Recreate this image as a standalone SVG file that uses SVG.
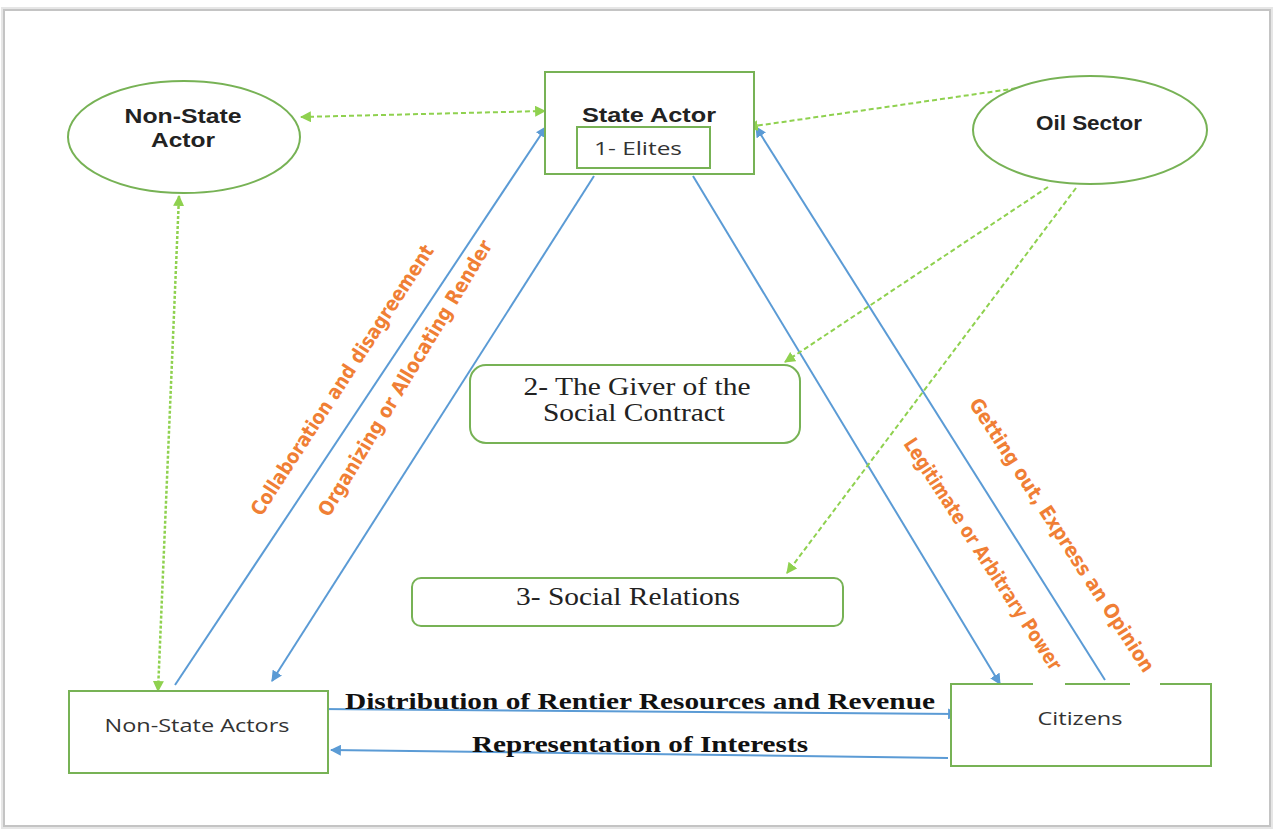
<svg xmlns="http://www.w3.org/2000/svg" width="1276" height="832" viewBox="0 0 1276 832">
<style>
.node{fill:#fff;stroke:#77b255;stroke-width:2}
.blue{stroke:#5b9bd5;stroke-width:2;fill:none}
.gdash{stroke:#8fd14f;stroke-width:2;fill:none;stroke-dasharray:5 3}
.gdot{stroke:#8fd14f;stroke-width:2.5;fill:none;stroke-dasharray:3 2}
.sansb{font-family:"Liberation Sans",Arial,sans-serif;font-weight:bold;font-size:21px;fill:#222;text-anchor:middle}
.sans{font-family:"Open Sans","Liberation Sans",sans-serif;font-size:19px;fill:#333;text-anchor:middle}
.serif{font-family:"Liberation Serif","Times New Roman",serif;font-size:25px;fill:#222;text-anchor:middle}
.serifb{font-family:"Liberation Serif","Times New Roman",serif;font-weight:bold;font-size:24px;fill:#111;text-anchor:middle}
.orange{font-family:"DejaVu Sans","Liberation Sans",sans-serif;font-weight:bold;font-size:20px;fill:#f07f35;text-anchor:middle}
</style>
<defs>
<marker id="ag" viewBox="0 0 10 10" refX="9" refY="5" markerWidth="11" markerHeight="11" orient="auto-start-reverse" markerUnits="userSpaceOnUse"><path d="M0,0 L10,5 L0,10 z" fill="#8fd14f"/></marker>
<marker id="abl" viewBox="0 0 10 10" refX="9" refY="5" markerWidth="11" markerHeight="11" orient="auto-start-reverse" markerUnits="userSpaceOnUse"><path d="M0,0 L10,5 L0,10 z" fill="#5b9bd5"/></marker>
</defs>
<rect x="0" y="0" width="1276" height="832" fill="#ffffff"/>
<rect x="4" y="10" width="1266" height="816" fill="#fff" stroke="#c4c4c4" stroke-width="2"/>
<rect x="2" y="8" width="1270" height="820" fill="none" stroke="#e6e6e6" stroke-width="2"/>

<g id="connectors">
<line class="blue" x1="175" y1="685" x2="546" y2="127" marker-end="url(#abl)"/>
<line class="blue" x1="594" y1="176" x2="272" y2="681" marker-end="url(#abl)"/>
<line class="blue" x1="693" y1="176" x2="1000" y2="684" marker-end="url(#abl)"/>
<line class="blue" x1="1105" y1="680" x2="756" y2="127" marker-end="url(#abl)"/>
<line class="blue" x1="318" y1="709" x2="958" y2="714" marker-end="url(#abl)"/>
<line class="blue" x1="948" y1="758" x2="331" y2="750" marker-end="url(#abl)"/>
<line class="gdash" x1="301" y1="117" x2="545" y2="111" marker-start="url(#ag)" marker-end="url(#ag)"/>
<line class="gdash" x1="1032" y1="86" x2="748" y2="127" marker-end="url(#ag)"/>
<line class="gdash" x1="1048" y1="187" x2="785" y2="362" marker-end="url(#ag)"/>
<line class="gdash" x1="1076" y1="188" x2="787" y2="573" marker-end="url(#ag)"/>
<line class="gdot" x1="179" y1="196" x2="158" y2="691" marker-start="url(#ag)" marker-end="url(#ag)"/>
</g>

<g id="non-state-actor">
<ellipse class="node" cx="184" cy="137" rx="116" ry="56"/>
<text class="sansb" x="183" y="123" textLength="117" lengthAdjust="spacingAndGlyphs">Non-State</text>
<text class="sansb" x="183" y="147" textLength="64" lengthAdjust="spacingAndGlyphs">Actor</text>
</g>

<g id="state-actor">
<rect class="node" x="545" y="72" width="209" height="102"/>
<text class="sansb" x="649" y="122" textLength="134" lengthAdjust="spacingAndGlyphs">State Actor</text>
<rect class="node" x="577" y="127" width="133" height="41"/>
<text class="sans" x="638" y="155" textLength="88" lengthAdjust="spacingAndGlyphs">1- Elites</text>
</g>

<g id="oil-sector">
<ellipse class="node" cx="1090" cy="130" rx="117" ry="54"/>
<text class="sansb" x="1089" y="130" textLength="106" lengthAdjust="spacingAndGlyphs">Oil Sector</text>
</g>

<g id="giver">
<rect class="node" x="470" y="365" width="330" height="78" rx="16"/>
<text class="serif" x="637" y="395" textLength="227" lengthAdjust="spacingAndGlyphs">2- The Giver of the</text>
<text class="serif" x="634" y="421" textLength="182" lengthAdjust="spacingAndGlyphs">Social Contract</text>
</g>

<g id="social-relations">
<rect class="node" x="412" y="578" width="431" height="48" rx="9"/>
<text class="serif" x="628" y="605" textLength="224" lengthAdjust="spacingAndGlyphs">3- Social Relations</text>
</g>

<g id="non-state-actors">
<rect class="node" x="69" y="691" width="259" height="82"/>
<text class="sans" x="197" y="732" textLength="185" lengthAdjust="spacingAndGlyphs">Non-State Actors</text>
</g>

<g id="citizens">
<rect x="951" y="684" width="260" height="82" fill="#fff" stroke="none"/>
<path d="M1033,684 H951 V766 H1211 V684 H1160 M1130,684 H1065" fill="none" stroke="#77b255" stroke-width="2"/>
<text class="sans" x="1080" y="725" textLength="85" lengthAdjust="spacingAndGlyphs">Citizens</text>
</g>

<g id="labels">
<text class="serifb" x="640" y="709" textLength="590" lengthAdjust="spacingAndGlyphs">Distribution of Rentier Resources and Revenue</text>
<text class="serifb" x="640" y="752" textLength="336" lengthAdjust="spacingAndGlyphs">Representation of Interests</text>
<text class="orange" transform="translate(342,380) rotate(-57)" y="7" textLength="318" lengthAdjust="spacingAndGlyphs">Collaboration and disagreement</text>
<text class="orange" transform="translate(405,378) rotate(-59)" y="7" textLength="318" lengthAdjust="spacingAndGlyphs">Organizing or Allocating Render</text>
<text class="orange" transform="translate(1062,535) rotate(57)" y="7" textLength="322" lengthAdjust="spacingAndGlyphs">Getting out, Express an Opinion</text>
<text class="orange" transform="translate(983,554) rotate(57)" y="7" textLength="272" lengthAdjust="spacingAndGlyphs">Legitimate or Arbitrary Power</text>
</g>
</svg>
